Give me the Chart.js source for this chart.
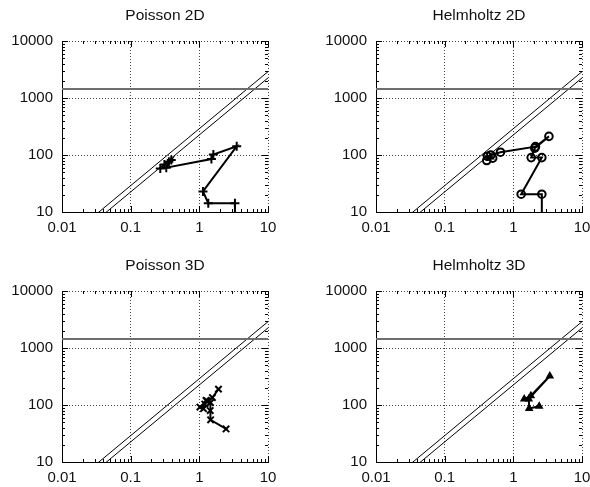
<!DOCTYPE html>
<html>
<head>
<meta charset="utf-8">
<title>Roofline panels</title>
<script src="https://cdn.jsdelivr.net/npm/chart.js@4.4.1/dist/chart.umd.min.js"></script>
<style>
  html, body { margin: 0; padding: 0; background: #fff; overflow: hidden; }
  #wrap { position: relative; width: 590px; height: 487px; overflow: hidden; }
  canvas { position: absolute; }
</style>
</head>
<body>
<div id="wrap">
  <canvas id="p2d" width="295" height="243" style="left:0;top:0"></canvas>
  <canvas id="h2d" width="295" height="243" style="left:314px;top:0"></canvas>
  <canvas id="p3d" width="295" height="243" style="left:0;top:250px"></canvas>
  <canvas id="h3d" width="295" height="243" style="left:314px;top:250px"></canvas>
</div>
<script>
// axes (log-log)
const xDecades = [0.01, 0.1, 1, 10];
const xTickLabels = ['0.01', '0.1', '1', '10'];
const yDecades = [10, 100, 1000, 10000];
const yTickLabels = ['10', '100', '1000', '10000'];

// machine limits: compute peak and two bandwidth lines
const peakX = [0.01, 10];
const peakY = [1440, 1440];
const bwX = [0.01, 10];
const bwUpperY = [2.9, 2900];
const bwLowerY = [2.25, 2250];

// measured runs
const poisson2dX = [0.27, 0.31, 0.36, 0.39, 0.33, 1.5, 1.6, 3.5, 1.13, 1.35, 3.3, 3.3];
const poisson2dY = [58, 68, 76, 82, 60, 85, 102, 142, 23, 14.3, 14.3, 5];

const helmholtz2dX = [0.41, 0.42, 0.5, 0.47, 0.65, 2.1, 3.3, 2.05, 1.82, 2.6, 1.3, 2.6, 2.6];
const helmholtz2dY = [80, 95, 88, 100, 112, 140, 212, 132, 90, 90, 20.5, 20.5, 5];

const poisson3dX = [1.9, 1.55, 1.3, 1.2, 1.02, 1.15, 1.25, 1.45, 1.44, 1.46, 2.45];
const poisson3dY = [190, 135, 118, 104, 92, 86, 120, 110, 80, 55, 38];

const helmholtz3dX = [1.44, 1.8, 3.4, 1.68, 1.7, 2.38];
const helmholtz3dY = [127, 145, 322, 128, 87, 95];

Chart.defaults.font.family = "'Liberation Sans', Arial, sans-serif";
Chart.defaults.font.size = 15;
Chart.defaults.color = '#111';

function isDecade(v) {
    const l = Math.log10(v);
    return Math.abs(l - Math.round(l)) < 1e-6;
}

function toPoints(xs, ys) {
    return xs.map((x, i) => ({ x: x, y: ys[i] }));
}

// 1..9 x each decade, like gnuplot's log tics
function logTicks(decades) {
    const ticks = [];
    for (let i = 0; i < decades.length - 1; i++) {
        for (let m = 1; m <= 9; m++) ticks.push({ value: m * decades[i] });
    }
    ticks.push({ value: decades[decades.length - 1] });
    return ticks;
}

function decadeLabel(decades, labels) {
    return function(value) {
        const i = decades.findIndex(d => Math.abs(d - value) / d < 1e-6);
        return i >= 0 ? labels[i] : '';
    };
}

// inward tics on all four sides
const mirrorTicks = {
    id: 'mirrorTicks',
    afterDatasetsDraw(chart) {
        const { ctx, chartArea: a, scales } = chart;
        ctx.save();
        ctx.strokeStyle = '#000';
        ctx.lineWidth = 1;
        ctx.beginPath();
        scales.x.ticks.forEach(t => {
            const px = Math.round(scales.x.getPixelForValue(t.value)) + 0.5;
            const len = isDecade(t.value) ? 6 : 3;
            ctx.moveTo(px, a.bottom); ctx.lineTo(px, a.bottom - len);
            ctx.moveTo(px, a.top); ctx.lineTo(px, a.top + len);
        });
        scales.y.ticks.forEach(t => {
            const py = Math.round(scales.y.getPixelForValue(t.value)) + 0.5;
            const len = isDecade(t.value) ? 6 : 3;
            ctx.moveTo(a.left, py); ctx.lineTo(a.left + len, py);
            ctx.moveTo(a.right, py); ctx.lineTo(a.right - len, py);
        });
        ctx.stroke();
        ctx.restore();
    }
};

function gridColor(c) {
    return c.tick && isDecade(c.tick.value) ? '#444' : 'rgba(0,0,0,0)';
}

function createPanel(canvasId, title, xs, ys, marker) {
    const canvas = document.getElementById(canvasId);
    if (!canvas) return null;
    const ctx = canvas.getContext('2d');

    return new Chart(ctx, {
        type: 'scatter',
        data: {
            datasets: [
                {
                    data: toPoints(peakX, peakY),
                    showLine: true,
                    borderColor: '#6e6e6e',
                    borderWidth: 2,
                    pointRadius: 0,
                    clip: 0
                },
                {
                    data: toPoints(bwX, bwUpperY),
                    showLine: true,
                    borderColor: '#000',
                    borderWidth: 1,
                    pointRadius: 0,
                    clip: 0
                },
                {
                    data: toPoints(bwX, bwLowerY),
                    showLine: true,
                    borderColor: '#000',
                    borderWidth: 1,
                    pointRadius: 0,
                    clip: 0
                },
                {
                    data: toPoints(xs, ys),
                    showLine: true,
                    borderColor: '#000',
                    borderWidth: 2,
                    pointStyle: marker.style,
                    pointRadius: marker.radius,
                    pointBorderWidth: 2,
                    pointBorderColor: '#000',
                    pointBackgroundColor: marker.fill,
                    clip: 0
                }
            ]
        },
        options: {
            responsive: false,
            animation: false,
            events: [],
            layout: { padding: { left: 0, right: 27, top: 0, bottom: 0 } },
            plugins: {
                legend: { display: false },
                tooltip: { enabled: false },
                title: {
                    display: true,
                    text: title,
                    fullSize: false,
                    color: '#111',
                    font: { size: 15.5, weight: 'normal' },
                    padding: { top: 6, bottom: 16.4 }
                }
            },
            scales: {
                x: {
                    type: 'logarithmic',
                    min: xDecades[0],
                    max: xDecades[xDecades.length - 1],
                    afterBuildTicks: s => { s.ticks = logTicks(xDecades); },
                    afterFit: s => { s.height = 31; },
                    grid: { color: gridColor, lineWidth: 1, drawTicks: false },
                    border: { display: true, color: '#000', width: 1, dash: [1, 2] },
                    ticks: {
                        autoSkip: false,
                        maxRotation: 0,
                        minRotation: 0,
                        padding: 7,
                        color: '#111',
                        callback: decadeLabel(xDecades, xTickLabels)
                    }
                },
                y: {
                    type: 'logarithmic',
                    min: yDecades[0],
                    max: yDecades[yDecades.length - 1],
                    afterBuildTicks: s => { s.ticks = logTicks(yDecades); },
                    afterFit: s => { s.width = 62; },
                    grid: { color: gridColor, lineWidth: 1, drawTicks: false },
                    border: { display: true, color: '#000', width: 1, dash: [1, 2] },
                    ticks: {
                        autoSkip: false,
                        padding: 9,
                        color: '#111',
                        callback: decadeLabel(yDecades, yTickLabels)
                    }
                }
            }
        },
        plugins: [mirrorTicks]
    });
}

createPanel('p2d', 'Poisson 2D', poisson2dX, poisson2dY, { style: 'cross', radius: 4.5, fill: '#000' });
createPanel('h2d', 'Helmholtz 2D', helmholtz2dX, helmholtz2dY, { style: 'circle', radius: 3.8, fill: 'rgba(0,0,0,0)' });
createPanel('p3d', 'Poisson 3D', poisson3dX, poisson3dY, { style: 'crossRot', radius: 4.5, fill: '#000' });
createPanel('h3d', 'Helmholtz 3D', helmholtz3dX, helmholtz3dY, { style: 'triangle', radius: 3, fill: '#000' });
</script>
</body>
</html>
